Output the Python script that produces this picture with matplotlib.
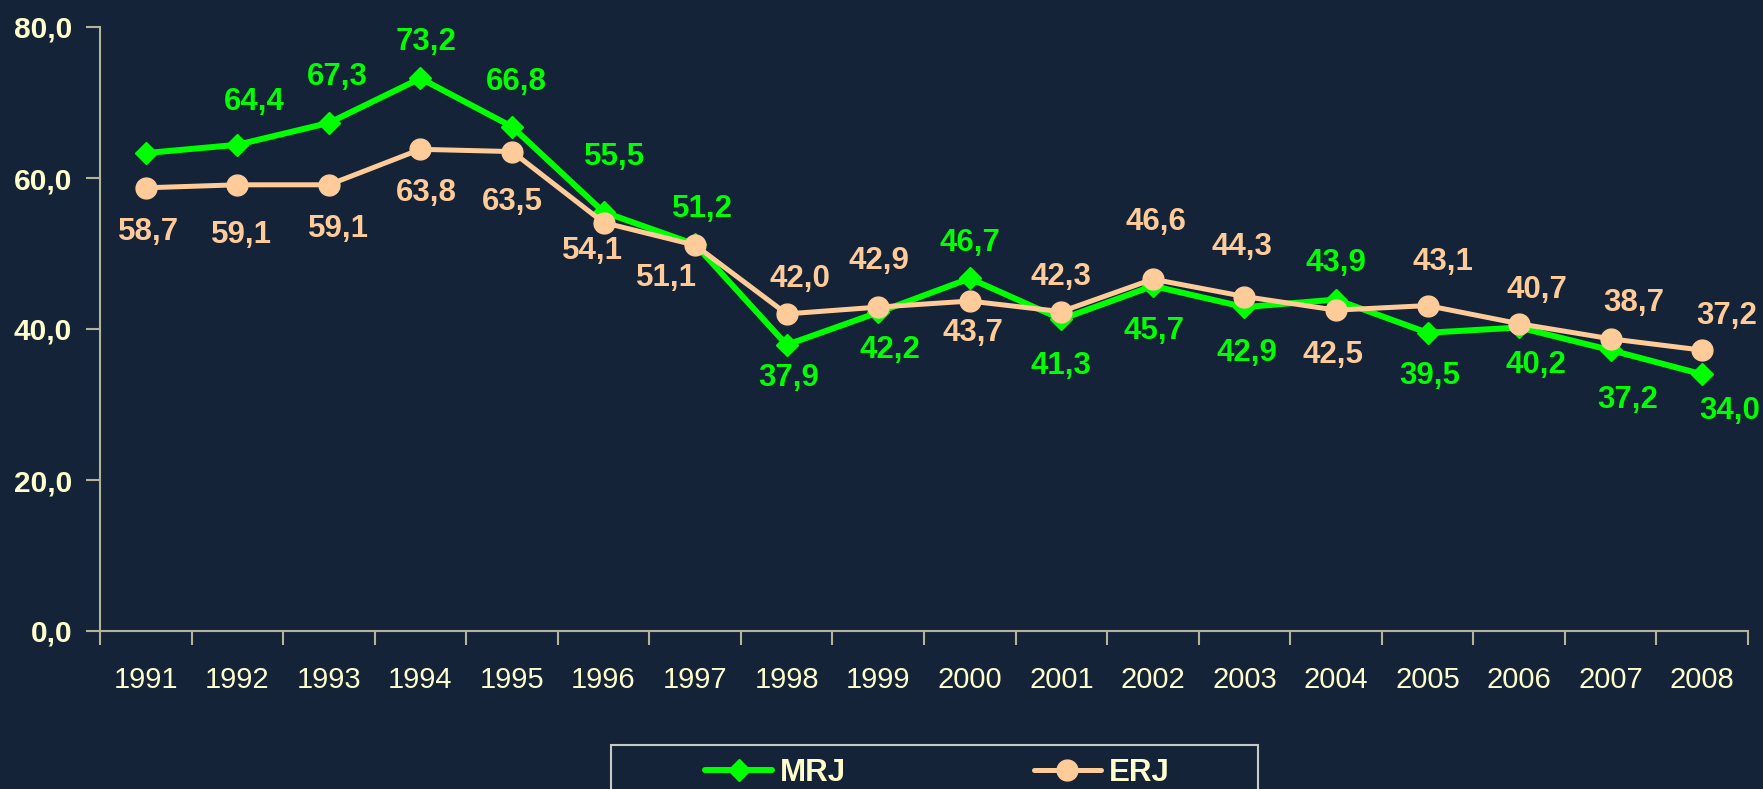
import matplotlib
matplotlib.use("Agg")
import matplotlib.pyplot as plt
from matplotlib.ticker import FixedLocator, FuncFormatter
from matplotlib.patches import Rectangle

# ---- data ----
years = ["1991", "1992", "1993", "1994", "1995", "1996", "1997", "1998", "1999",
         "2000", "2001", "2002", "2003", "2004", "2005", "2006", "2007", "2008"]
mrj = [63.3, 64.4, 67.3, 73.2, 66.8, 55.5, 51.2, 37.9, 42.2,
       46.7, 41.3, 45.7, 42.9, 43.9, 39.5, 40.2, 37.2, 34.0]
erj = [58.7, 59.1, 59.1, 63.8, 63.5, 54.1, 51.1, 42.0, 42.9,
       43.7, 42.3, 46.6, 44.3, 42.5, 43.1, 40.7, 38.7, 37.2]
mrj_show_label = [False] + [True] * 17
series_names = ["MRJ", "ERJ"]
y_ticks = [0, 20, 40, 60, 80]

# ---- label offsets (pixels; dx, dy up) ----
mrj_off = [(0, 0), (17, 43), (8, 46), (6, 36), (4, 45), (11, 55), (7, 35), (2, -33), (12, -38),
           (0, 35), (0, -47), (1, -45), (2, -46), (0, 37), (2, -43), (17, -38), (17, -50), (27, -37)]
erj_off = [(3, -44), (4, -50), (10, -44), (6, -44), (0, -50), (-11, -28), (-29, -33), (13, 35), (1, 46),
           (3, -32), (0, 35), (3, 57), (-3, 50), (-3, -45), (15, 44), (18, 34), (23, 36), (24, 34)]

# ---- style ----
BG = "#142337"
GREEN = "#00ff00"
PEACH = "#ffcc99"
CREAM = "#ffffcc"
AXC = "#b4b49c"
plt.rcParams["font.family"] = ["Liberation Sans", "DejaVu Sans"]

W, H = 1763, 789
fig = plt.figure(figsize=(W / 100, H / 100), dpi=100, facecolor=BG)
ax = fig.add_axes([100 / W, (H - 631) / H, 1648 / W, 604 / H])
ax.set_facecolor(BG)

x = list(range(len(years)))
l1, = ax.plot(x, mrj, color=GREEN, lw=4.3, marker="D", ms=10.7,
              mfc=GREEN, mec=GREEN, zorder=3, label=series_names[0], solid_capstyle="round")
l2, = ax.plot(x, erj, color=PEACH, lw=3.6, marker="o", ms=15,
              mfc=PEACH, mec=PEACH, zorder=4, label=series_names[1], solid_capstyle="round")

fmt = lambda v: f"{v:.1f}".replace(".", ",")

for i, v in enumerate(mrj):
    if mrj_show_label[i]:
        ax.annotate(fmt(v), (i, v), xytext=mrj_off[i], textcoords="offset pixels",
                    ha="center", va="center", color=GREEN, fontsize=22.5,
                    fontweight="bold", zorder=6, annotation_clip=False)
for i, v in enumerate(erj):
    ax.annotate(fmt(v), (i, v), xytext=erj_off[i], textcoords="offset pixels",
                ha="center", va="center", color=PEACH, fontsize=22.5,
                fontweight="bold", zorder=6, annotation_clip=False)

ax.set_xlim(-0.5, len(years) - 0.5)
ax.set_ylim(0, 80)

for s in ["top", "right"]:
    ax.spines[s].set_visible(False)
for s in ["left", "bottom"]:
    ax.spines[s].set_color(AXC)
    ax.spines[s].set_linewidth(1.5)

ax.xaxis.set_major_locator(FixedLocator(x))
ax.set_xticklabels(years)
ax.xaxis.set_minor_locator(FixedLocator([i - 0.5 for i in range(len(years) + 1)]))
ax.tick_params(axis="x", which="major", length=0, pad=25, labelsize=21, labelcolor=CREAM)
ax.tick_params(axis="x", which="minor", length=10, width=1.5, color=AXC, direction="out")

ax.yaxis.set_major_locator(FixedLocator(y_ticks))
ax.yaxis.set_major_formatter(FuncFormatter(lambda v, p: fmt(v)))
ax.tick_params(axis="y", length=10, width=1.5, color=AXC, direction="out", pad=10,
               labelsize=21.5, labelcolor=CREAM)
for t in ax.get_yticklabels():
    t.set_fontweight("bold")

# legend box
fig.patches.append(Rectangle((610.7 / W, -0.05), (1257.6 - 610.7) / W, (H - 745) / H + 0.05,
                             transform=fig.transFigure, fill=False, edgecolor="#c8c8c8",
                             lw=1.5, zorder=1))
leg = fig.legend(handles=[l1, l2], loc="center", bbox_to_anchor=((707 + 1168) / 2 / W, (H - 773) / H),
                 ncol=2, frameon=False, handlelength=2.15, handletextpad=0.25,
                 columnspacing=6.0, borderaxespad=0, borderpad=0,
                 prop={"size": 22.5, "weight": "bold"})
for t in leg.get_texts():
    t.set_color(CREAM)

fig.savefig("out.png", dpi=100, facecolor=BG)
